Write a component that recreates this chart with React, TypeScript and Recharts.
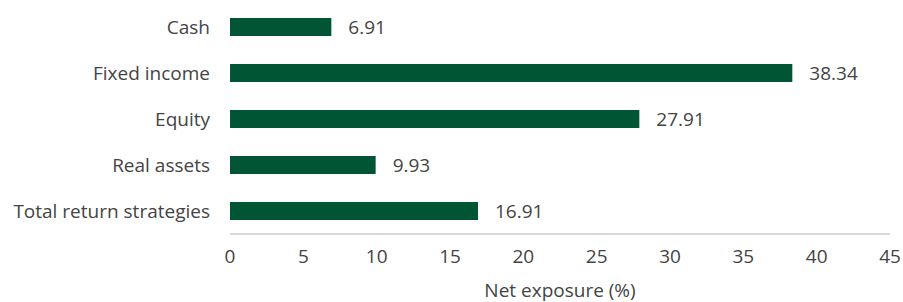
import { BarChart, Bar, XAxis, YAxis, LabelList } from "recharts";

const categories = ["Cash", "Fixed income", "Equity", "Real assets", "Total return strategies"];
const exposure = [6.91, 38.34, 27.91, 9.93, 16.91];
const xTicks = [0, 5, 10, 15, 20, 25, 30, 35, 40, 45];

const data = categories.map((name, i) => ({ name, value: exposure[i] }));

const font = "'Open Sans', sans-serif";
const textColor = "#444444";
const fs = 19;

export default function App() {
  return (
    <div style={{ position: "absolute", left: 0, top: 0 }}>
      <BarChart
        width={903}
        height={302}
        data={data}
        layout="vertical"
        margin={{ top: 4, right: 13, bottom: 0, left: 0 }}
        style={{ fontFamily: font }}
      >
        <XAxis
          type="number"
          domain={[0, 45]}
          ticks={xTicks}
          height={68}
          tickLine={false}
          axisLine={{ stroke: "#d9d9d9", strokeWidth: 2 }}
          tick={{ fontSize: fs, fill: textColor, fontFamily: font }}
          tickMargin={10}
          interval={0}
          label={{
            value: "Net exposure (%)",
            position: "insideBottom",
            offset: 5,
            fontSize: fs,
            fill: textColor,
            fontFamily: font,
          }}
        />
        <YAxis
          type="category"
          dataKey="name"
          width={230}
          tickLine={false}
          axisLine={false}
          tickMargin={14}
          tick={{ fontSize: fs, fill: textColor, fontFamily: font }}
          interval={0}
        />
        <Bar dataKey="value" fill="#005535" barSize={18} isAnimationActive={false}>
          <LabelList
            dataKey="value"
            position="right"
            offset={17}
            fill={textColor}
            fontSize={fs}
            fontFamily={font}
          />
        </Bar>
      </BarChart>
    </div>
  );
}
